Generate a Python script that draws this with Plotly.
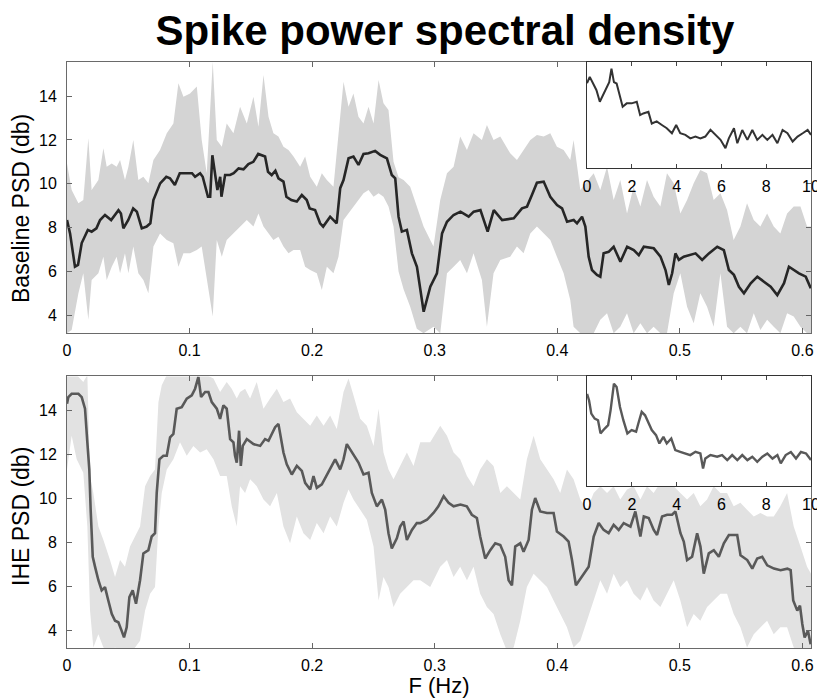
import plotly.graph_objects as go

# ---------------- data ----------------
# Top panel: baseline mean PSD (dB) vs frequency (Hz)
top_f = [0, 0.0025, 0.0065, 0.009, 0.012, 0.017, 0.0201, 0.024, 0.027, 0.031,
         0.036, 0.042, 0.044, 0.046, 0.050, 0.054, 0.057, 0.061, 0.065, 0.068,
         0.0705, 0.076, 0.081, 0.084, 0.088, 0.092, 0.102, 0.1045, 0.1086, 0.1107,
         0.115, 0.1168, 0.1186, 0.121, 0.1227, 0.125, 0.126, 0.129, 0.133, 0.136,
         0.140, 0.144, 0.148, 0.152, 0.156, 0.1616, 0.164, 0.167, 0.170, 0.1725,
         0.1766, 0.179, 0.183, 0.1875, 0.1916, 0.1956, 0.198, 0.2024, 0.2065, 0.209,
         0.2147, 0.220, 0.2229, 0.2256, 0.2297, 0.2337, 0.2378, 0.2419, 0.246, 0.2514,
         0.2555, 0.261, 0.265, 0.2678, 0.2705, 0.2732, 0.2773, 0.2814, 0.2855, 0.291,
         0.2964, 0.3018, 0.306, 0.310, 0.3154, 0.321, 0.3277, 0.3318, 0.3373, 0.3432,
         0.3482, 0.355, 0.3645, 0.3712, 0.3753, 0.3793, 0.3834, 0.3889, 0.3943, 0.3998,
         0.4039, 0.408, 0.4134, 0.4161, 0.4202, 0.4229, 0.4256, 0.4283, 0.4324, 0.4351,
         0.4378, 0.4419, 0.446, 0.4515, 0.457, 0.4624, 0.4665, 0.4706, 0.4787, 0.4842,
         0.4883, 0.491, 0.4937, 0.4964, 0.4992, 0.5032, 0.5087, 0.5128, 0.5182, 0.5237,
         0.5305, 0.5359, 0.540, 0.5441, 0.5482, 0.5523, 0.5578, 0.5632, 0.5686, 0.5741,
         0.5795, 0.585, 0.589, 0.5931, 0.5972, 0.6027, 0.6068]
top_psd = [8.35, 7.74, 6.22, 6.30, 7.30, 7.90, 7.82, 7.97, 8.35, 8.58,
           8.35, 8.80, 8.65, 7.97, 8.35, 8.88, 8.73, 7.97, 8.05, 8.20,
           9.26, 10.02, 10.32, 10.25, 9.95, 10.48, 10.48, 10.32, 10.48, 10.32,
           9.41, 9.41, 11.30, 10.48, 9.72, 10.32, 9.41, 10.40, 10.40, 10.48,
           10.70, 10.66, 10.90, 11.00, 11.36, 11.24, 10.55, 10.40, 10.60, 10.25,
           10.10, 9.41, 9.26, 9.19, 9.49, 9.26, 8.88, 8.80, 8.20, 8.05,
           8.50, 8.20, 9.80, 10.17, 11.16, 11.24, 10.86, 11.36, 11.39, 11.50,
           11.32, 11.16, 10.40, 10.25, 8.50, 7.82, 7.90, 6.83, 6.22, 4.17,
           5.31, 5.92, 7.74, 8.27, 8.58, 8.73, 8.50, 8.73, 8.80, 7.82,
           8.80, 8.35, 8.43, 8.88, 8.96, 9.49, 10.05, 10.10, 9.41, 9.03,
           8.88, 8.27, 8.35, 8.20, 8.50, 8.05, 6.68, 6.07, 5.85, 5.77,
           6.83, 6.90, 7.13, 6.45, 7.13, 6.98, 6.75, 7.13, 7.06, 6.68,
           6.07, 5.39, 5.92, 6.83, 6.53, 6.68, 6.75, 6.83, 6.53, 6.83,
           7.13, 6.98, 6.07, 5.85, 5.31, 5.01, 5.47, 5.77, 5.54, 5.31,
           4.93, 5.47, 6.22, 6.07, 5.92, 5.77, 5.24]

# Top panel: shaded band (upper / lower bounds)
top_band_f = [0, 0.0038, 0.0093, 0.0133, 0.0174, 0.0201, 0.0256, 0.0297, 0.0324, 0.0365,
              0.0405, 0.0433, 0.0473, 0.0501, 0.0541, 0.0582, 0.0623, 0.0664, 0.0705, 0.0759,
              0.0814, 0.0868, 0.0909, 0.095, 0.1004, 0.1059, 0.1099, 0.114, 0.1189, 0.1222,
              0.1263, 0.1303, 0.1358, 0.1412, 0.1467, 0.1521, 0.1562, 0.1603, 0.1644, 0.1684,
              0.1725, 0.1766, 0.1807, 0.1848, 0.1902, 0.1943, 0.1984, 0.2038, 0.2079, 0.212,
              0.2174, 0.2215, 0.2256, 0.2297, 0.2337, 0.2378, 0.2419, 0.246, 0.2501, 0.2542,
              0.2582, 0.2623, 0.2664, 0.2705, 0.2746, 0.28, 0.2854, 0.2909, 0.299, 0.3045,
              0.31, 0.3154, 0.3208, 0.3263, 0.3317, 0.3385, 0.3426, 0.348, 0.3535, 0.3616,
              0.3671, 0.3725, 0.378, 0.3834, 0.3889, 0.3943, 0.3997, 0.4052, 0.4106, 0.4133,
              0.4188, 0.4297, 0.4351, 0.4406, 0.446, 0.4514, 0.4569, 0.4623, 0.4678, 0.4732,
              0.4786, 0.4841, 0.4895, 0.495, 0.5004, 0.5059, 0.5113, 0.5167, 0.5222, 0.5276,
              0.5331, 0.5385, 0.5439, 0.5494, 0.5548, 0.5603, 0.5657, 0.5712, 0.5766, 0.582,
              0.5875, 0.5929, 0.5984, 0.6038, 0.607]
top_upper = [10.93, 9.72, 9.11, 9.26, 12.07, 9.72, 10.17, 11.62, 10.78, 10.93,
             10.78, 11.08, 10.17, 10.78, 12.00, 10.17, 10.32, 10.02, 11.08, 11.54,
             12.30, 12.75, 14.58, 13.97, 14.12, 14.43, 12.00, 10.48, 15.56, 12.00,
             11.69, 12.75, 12.30, 13.51, 12.75, 13.97, 12.60, 14.96, 13.06, 12.30,
             12.15, 11.69, 11.54, 11.24, 10.78, 11.24, 10.32, 9.87, 10.48, 10.17,
             9.87, 12.15, 14.65, 13.51, 14.12, 13.06, 12.75, 13.51, 12.75, 14.73,
             13.67, 13.36, 11.00, 10.30, 10.17, 9.87, 9.00, 8.05, 7.14, 9.26,
             10.48, 10.78, 12.15, 11.54, 12.30, 12.00, 12.68, 12.00, 12.15, 11.39,
             11.08, 11.54, 12.00, 12.22, 12.15, 12.30, 11.69, 11.54, 11.08, 12.00,
             9.72, 10.48, 9.72, 10.78, 9.26, 10.17, 8.65, 9.87, 8.96, 10.17,
             9.41, 8.96, 10.48, 10.02, 8.65, 9.26, 10.02, 10.63, 10.48, 9.26,
             9.57, 8.81, 7.44, 8.05, 9.11, 8.35, 8.05, 8.65, 8.05, 7.74,
             8.65, 8.96, 8.96, 8.05, 8.05]
top_lower = [3.19, 3.34, 5.01, 5.92, 3.80, 5.62, 5.92, 6.68, 5.62, 6.22,
             6.68, 5.92, 6.83, 5.92, 7.14, 5.92, 5.62, 5.01, 7.14, 7.74,
             7.44, 7.29, 6.22, 6.83, 6.83, 6.98, 7.14, 5.62, 3.95, 7.44,
             6.68, 7.44, 7.74, 8.05, 8.35, 8.05, 8.65, 8.05, 7.74, 7.44,
             7.59, 7.14, 6.83, 6.98, 6.98, 6.22, 6.07, 5.92, 5.16, 6.22,
             5.92, 6.68, 8.35, 8.65, 8.96, 9.26, 9.57, 9.72, 9.41, 9.57,
             9.41, 8.96, 8.05, 6.00, 5.20, 4.40, 3.40, 3.19, 3.49, 3.19,
             5.92, 6.22, 6.53, 5.92, 6.83, 5.62, 3.49, 5.92, 6.53, 6.68,
             7.14, 6.83, 7.74, 8.05, 7.74, 7.44, 6.68, 5.92, 4.71, 3.49,
             3.19, 3.19, 3.80, 4.10, 3.19, 3.49, 4.10, 3.19, 3.64, 3.19,
             3.49, 3.19, 3.19, 5.01, 5.92, 4.40, 3.64, 5.01, 4.40, 3.49,
             5.92, 3.49, 3.19, 3.49, 3.19, 4.10, 3.34, 3.80, 3.49, 3.19,
             4.10, 3.95, 3.49, 3.19, 3.19]

# Bottom panel: IHE mean PSD (dB)
ihe_f = [0, 0.0011, 0.0038, 0.0093, 0.012, 0.0147, 0.0166, 0.0182, 0.0193, 0.021,
         0.0229, 0.0256, 0.0283, 0.031, 0.0337, 0.0365, 0.0392, 0.0419, 0.0446, 0.0465,
         0.0487, 0.0509, 0.0536, 0.0563, 0.0596, 0.0623, 0.0664, 0.0691, 0.0718, 0.0732,
         0.0754, 0.0786, 0.0814, 0.0841, 0.0868, 0.0895, 0.0936, 0.0977, 0.1018, 0.1045,
         0.1072, 0.1094, 0.1127, 0.1154, 0.1181, 0.1222, 0.1249, 0.1276, 0.1303, 0.1331,
         0.1358, 0.1371, 0.1385, 0.1404, 0.1418, 0.1434, 0.1467, 0.1521, 0.1576, 0.1616,
         0.1644, 0.1671, 0.1698, 0.1725, 0.1744, 0.1766, 0.1793, 0.1834, 0.1875, 0.1916,
         0.1943, 0.1984, 0.2011, 0.2038, 0.2079, 0.212, 0.2161, 0.2188, 0.2229, 0.2256,
         0.2283, 0.2324, 0.2378, 0.2419, 0.246, 0.2487, 0.2528, 0.2569, 0.2596, 0.2623,
         0.265, 0.2691, 0.2718, 0.2746, 0.2773, 0.2814, 0.2854, 0.2882, 0.2937, 0.299,
         0.303, 0.3073, 0.3113, 0.3154, 0.321, 0.3262, 0.3303, 0.3344, 0.3371, 0.3412,
         0.3453, 0.3494, 0.3535, 0.3575, 0.3603, 0.363, 0.3657, 0.3698, 0.3725, 0.3766,
         0.3793, 0.382, 0.3861, 0.3916, 0.397, 0.3997, 0.4052, 0.4092, 0.412, 0.4152,
         0.4201, 0.4256, 0.4297, 0.4338, 0.4378, 0.4419, 0.446, 0.4501, 0.4542, 0.4597,
         0.4637, 0.4678, 0.4706, 0.4746, 0.4787, 0.4814, 0.4855, 0.4896, 0.4937, 0.4964,
         0.5005, 0.5032, 0.5059, 0.51, 0.5141, 0.5168, 0.5195, 0.5236, 0.5277, 0.5318,
         0.5359, 0.54, 0.5468, 0.5495, 0.555, 0.5591, 0.5631, 0.5672, 0.5713, 0.5768,
         0.5822, 0.5877, 0.5904, 0.5925, 0.5958, 0.598, 0.5999, 0.6018, 0.6045, 0.6067]
ihe_psd = [14.31, 14.61, 14.76, 14.76, 14.61, 14.08, 12.55, 11.32, 9.49, 7.35,
           6.89, 6.28, 5.82, 5.97, 5.36, 4.75, 4.44, 4.37, 3.98, 3.68,
           4.14, 5.51, 5.82, 5.21, 6.28, 7.50, 7.65, 8.27, 8.42, 10.25,
           11.78, 11.94, 11.94, 12.78, 12.93, 14.08, 14.15, 14.54, 14.69, 14.99,
           15.53, 14.61, 14.84, 14.84, 14.38, 14.08, 13.62, 14.23, 14.08, 12.70,
           12.55, 11.94, 11.63, 13.08, 11.48, 12.39, 12.70, 12.47, 12.39, 12.70,
           12.62, 12.93, 13.24, 13.39, 12.85, 12.09, 11.55, 11.09, 11.48, 11.25,
           10.71, 10.41, 11.02, 10.48, 10.64, 11.09, 11.48, 11.78, 11.32, 11.78,
           12.47, 12.09, 11.63, 11.09, 11.17, 10.25, 9.64, 9.95, 9.49, 8.42,
           7.73, 8.19, 8.72, 8.95, 8.11, 8.57, 8.88, 8.88, 9.03, 9.34,
           9.64, 10.10, 9.80, 9.64, 9.72, 9.64, 9.26, 9.11, 8.27, 7.27,
           7.65, 7.96, 7.88, 7.35, 6.28, 6.05, 7.81, 7.96, 7.58, 8.11,
           9.49, 10.02, 9.41, 9.34, 9.34, 8.50, 8.27, 8.04, 7.20, 6.05,
           6.43, 6.89, 8.27, 8.88, 8.57, 8.42, 8.80, 8.57, 8.88, 8.72,
           9.41, 8.27, 9.18, 9.11, 8.57, 8.34, 9.18, 9.26, 9.26, 9.41,
           8.42, 8.04, 7.20, 7.35, 8.42, 7.81, 6.58, 7.50, 7.65, 7.35,
           7.96, 8.34, 8.34, 7.42, 7.20, 6.81, 7.27, 7.35, 6.96, 6.81,
           6.74, 6.81, 6.74, 5.36, 4.90, 5.13, 4.29, 3.68, 3.98, 3.37]

# Bottom panel: shaded band
ihe_band_f = [0, 0.0038, 0.0079, 0.0133, 0.0166, 0.0188, 0.0215, 0.0256, 0.0297, 0.0351,
              0.0392, 0.0433, 0.0473, 0.0514, 0.0555, 0.0596, 0.0637, 0.0678, 0.0718, 0.0746,
              0.0773, 0.0814, 0.0868, 0.0922, 0.0977, 0.1031, 0.1086, 0.114, 0.1195, 0.1249,
              0.1303, 0.1344, 0.1385, 0.1412, 0.1453, 0.1494, 0.1548, 0.1603, 0.1657, 0.1712,
              0.1766, 0.182, 0.1875, 0.1929, 0.1984, 0.2038, 0.2093, 0.2147, 0.2201, 0.2256,
              0.2297, 0.2337, 0.2392, 0.2446, 0.2501, 0.2542, 0.2582, 0.2623, 0.2664, 0.2718,
              0.2773, 0.2827, 0.2882, 0.2963, 0.3045, 0.31, 0.3154, 0.3208, 0.3263, 0.3317,
              0.3371, 0.3426, 0.348, 0.3535, 0.3589, 0.3644, 0.3698, 0.3752, 0.3807, 0.3861,
              0.3916, 0.397, 0.4024, 0.4079, 0.4133, 0.4188, 0.4242, 0.4297, 0.4351, 0.4406,
              0.446, 0.4514, 0.4569, 0.4623, 0.4678, 0.4732, 0.4786, 0.4841, 0.4895, 0.495,
              0.5004, 0.5059, 0.5113, 0.5167, 0.5222, 0.5276, 0.5331, 0.5385, 0.5439, 0.5494,
              0.5548, 0.5603, 0.5657, 0.5712, 0.5766, 0.582, 0.5875, 0.5929, 0.5984, 0.6038,
              0.607]
ihe_upper = [15.61, 15.61, 15.61, 15.30, 15.61, 11.02, 10.25, 8.72, 8.11, 7.20,
             6.43, 7.20, 6.89, 7.81, 8.27, 8.72, 10.56, 11.02, 11.32, 14.38,
             15.15, 15.61, 15.61, 15.61, 15.61, 15.61, 15.61, 15.61, 15.45, 14.84,
             15.30, 14.99, 14.54, 14.84, 14.99, 14.54, 15.30, 14.08, 14.54, 14.99,
             14.38, 14.54, 13.92, 13.62, 13.31, 13.77, 13.31, 13.77, 13.16, 14.84,
             15.45, 14.69, 13.62, 13.31, 12.39, 14.08, 12.09, 11.32, 10.87, 11.48,
             12.09, 11.48, 12.55, 12.55, 13.31, 12.85, 12.09, 11.78, 11.02, 10.56,
             11.32, 11.78, 11.48, 10.25, 10.56, 10.25, 9.95, 11.78, 12.85, 11.78,
             11.32, 10.87, 10.25, 11.32, 10.87, 9.95, 9.49, 10.25, 10.56, 10.25,
             10.56, 9.95, 10.41, 10.56, 9.95, 10.56, 10.25, 10.71, 10.56, 10.56,
             10.25, 9.95, 10.25, 9.64, 9.95, 10.56, 10.25, 10.25, 9.64, 9.80,
             9.49, 9.18, 9.34, 9.18, 9.18, 9.64, 10.25, 8.72, 7.81, 6.89,
             6.58]
ihe_lower = [11.32, 12.85, 11.78, 11.17, 8.72, 4.90, 3.22, 3.83, 3.22, 3.07,
             3.22, 3.07, 3.07, 3.07, 3.22, 3.53, 4.90, 5.67, 5.97, 8.72,
             10.25, 11.32, 11.78, 12.55, 11.94, 12.39, 12.09, 12.24, 11.78, 11.02,
             11.02, 9.64, 8.72, 10.56, 10.25, 10.87, 10.56, 9.95, 9.64, 10.25,
             8.72, 7.96, 9.18, 8.42, 8.11, 8.88, 8.42, 9.18, 8.72, 9.80,
             10.41, 9.95, 9.49, 9.03, 7.81, 5.36, 6.43, 5.97, 5.06, 5.67,
             5.97, 6.28, 6.28, 5.97, 6.89, 7.20, 6.43, 6.89, 6.28, 6.89,
             5.67, 5.06, 4.75, 3.83, 3.07, 3.22, 4.44, 5.97, 6.58, 6.28,
             5.97, 5.36, 4.75, 4.14, 3.22, 3.53, 4.44, 5.36, 6.28, 5.67,
             6.58, 5.97, 6.28, 5.67, 5.36, 5.97, 5.36, 5.06, 5.67, 6.28,
             5.36, 4.14, 4.75, 4.44, 5.06, 5.36, 5.67, 5.67, 4.75, 4.14,
             3.22, 3.83, 4.14, 4.44, 3.83, 4.14, 4.14, 3.22, 3.07, 3.07,
             3.07]

# Insets: full spectrum 0-10 Hz (relative level, no y scale shown)
inset_top_f = [0, 0.12, 0.27, 0.42, 0.57, 0.72, 0.87, 0.99, 1.09, 1.2,
               1.32, 1.47, 1.59, 1.77, 1.99, 2.22, 2.37, 2.51, 2.74, 2.89,
               3.11, 3.34, 3.56, 3.79, 3.98, 4.16, 4.39, 4.61, 4.84, 5.06,
               5.28, 5.51, 5.73, 5.96, 6.18, 6.33, 6.56, 6.71, 6.93, 7.16,
               7.38, 7.6, 7.83, 8.05, 8.28, 8.5, 8.73, 8.95, 9.18, 9.4,
               9.63, 9.85, 10]
inset_top_val = [80, 86, 79.7, 73.4, 62.5, 68.8, 75, 81, 93.8, 81,
                 79.7, 67, 57.8, 61, 61, 62.5, 50, 51.5, 53, 42,
                 44, 40.6, 37.5, 32.8, 40.6, 32.8, 31.3, 28, 29.7, 28,
                 29.7, 36, 31.3, 26.6, 18.8, 28, 37.5, 23.4, 35.9, 26.6,
                 35.9, 26.6, 31.3, 26.6, 31.3, 23.4, 35.9, 32.8, 25, 29.7,
                 32.8, 35.9, 31.3]
inset_bot_f = [0, 0.09, 0.19, 0.34, 0.49, 0.6, 0.79, 0.94, 1.05, 1.2,
               1.32, 1.47, 1.62, 1.8, 1.99, 2.19, 2.29, 2.44, 2.59, 2.74,
               2.89, 3.08, 3.23, 3.41, 3.56, 3.76, 3.94, 4.16, 4.39, 4.61,
               4.84, 5.06, 5.18, 5.28, 5.51, 5.81, 6.03, 6.26, 6.48, 6.71,
               6.93, 7.16, 7.38, 7.6, 7.83, 8.05, 8.28, 8.5, 8.65, 8.87,
               9.1, 9.33, 9.55, 9.78, 10]
inset_bot_val = [84, 78, 66, 61.5, 60, 48, 52.4, 55.5, 69, 93.3,
                 90.3, 72, 60, 48, 51, 49.5, 57, 67.6, 64.5, 58.5,
                 51, 46.4, 38.8, 44.8, 38.8, 43.3, 32.7, 31.2, 29.7, 28.2,
                 31.2, 29.7, 16, 25, 28.2, 26.7, 28.2, 23.6, 28.2, 23.6,
                 28.2, 23.6, 26.7, 22, 26.7, 29.7, 25, 28.2, 20.6, 28.2,
                 31, 25, 31, 29.7, 23.6]

# Tick labels
main_tickvals = [0, 0.1, 0.2, 0.3, 0.4, 0.5, 0.6]
main_ticktext = ["0", "0.1", "0.2", "0.3", "0.4", "0.5", "0.6"]
psd_ticks = [4, 6, 8, 10, 12, 14]
inset_ticks = [0, 2, 4, 6, 8, 10]

# ---------------- figure ----------------
FONT = "Liberation Sans, Arial, Helvetica, sans-serif"
W, H = 817, 698
ML, MR, MT, MB = 67, 6, 62, 50
PW, PH = W - ML - MR, H - MT - MB

fig = go.Figure()

# top band + mean
fig.add_trace(go.Scatter(x=top_band_f, y=top_lower, mode="lines", line=dict(width=0),
                         hoverinfo="skip", xaxis="x", yaxis="y"))
fig.add_trace(go.Scatter(x=top_band_f, y=top_upper, mode="lines", line=dict(width=0),
                         fill="tonexty", fillcolor="#d4d4d4", hoverinfo="skip",
                         xaxis="x", yaxis="y"))
fig.add_trace(go.Scatter(x=top_f, y=top_psd, mode="lines",
                         line=dict(color="#262626", width=2.6), xaxis="x", yaxis="y"))

# bottom band + mean
fig.add_trace(go.Scatter(x=ihe_band_f, y=ihe_lower, mode="lines", line=dict(width=0),
                         hoverinfo="skip", xaxis="x2", yaxis="y2"))
fig.add_trace(go.Scatter(x=ihe_band_f, y=ihe_upper, mode="lines", line=dict(width=0),
                         fill="tonexty", fillcolor="#e2e2e2", hoverinfo="skip",
                         xaxis="x2", yaxis="y2"))
fig.add_trace(go.Scatter(x=ihe_f, y=ihe_psd, mode="lines",
                         line=dict(color="#595959", width=2.6), xaxis="x2", yaxis="y2"))

# insets
fig.add_trace(go.Scatter(x=inset_top_f, y=inset_top_val, mode="lines",
                         line=dict(color="#333333", width=2), xaxis="x3", yaxis="y3"))
fig.add_trace(go.Scatter(x=inset_bot_f, y=inset_bot_val, mode="lines",
                         line=dict(color="#595959", width=2.4), xaxis="x4", yaxis="y4"))

# white backgrounds for the insets (drawn inside the inset subplots)
for xr, yr in (("x3", "y3"), ("x4", "y4")):
    fig.add_shape(type="rect", xref=xr, yref=yr, x0=0, x1=10, y0=0, y1=100,
                  fillcolor="white", line=dict(width=0), layer="below")

tickfont = dict(family=FONT, size=16, color="black")
main_x = dict(range=[0, 0.607], tickvals=main_tickvals, ticktext=main_ticktext,
              ticks="inside", ticklen=5, tickcolor="#666", mirror="allticks",
              showline=True, linecolor="#6a6a6a", linewidth=1, showgrid=False,
              zeroline=False, tickfont=tickfont, ticklabelstandoff=3,
              ticklabeloverflow="allow")
main_y = dict(range=[3.2, 15.55], tickvals=psd_ticks, ticks="inside", ticklen=5,
              tickcolor="#666", mirror="allticks", showline=True, linecolor="#6a6a6a",
              linewidth=1, showgrid=False, zeroline=False, tickfont=tickfont,
              ticklabelstandoff=6)
inset_x = dict(range=[0, 10], tickvals=inset_ticks, ticks="inside", ticklen=4,
               tickcolor="#444", mirror="allticks", showline=True, linecolor="#333",
               linewidth=1.2, showgrid=False, zeroline=False, tickfont=tickfont,
               ticklabelstandoff=4, ticklabeloverflow="allow")
inset_y = dict(range=[0, 100], showticklabels=False, ticks="", mirror=True,
               showline=True, linecolor="#333", linewidth=1.2, showgrid=False,
               zeroline=False)

label_font = dict(family=FONT, size=23, color="black")


def px_to_paper(px, py):
    """Convert picture pixel position to plot-area paper coordinates."""
    return (px - ML) / PW, (H - MB - py) / PH


ax1, ay1 = px_to_paper(21, 209)
ax2, ay2 = px_to_paper(21, 517)

fig.update_layout(
    width=W, height=H,
    margin=dict(l=ML, r=MR, t=MT, b=MB, autoexpand=False),
    paper_bgcolor="white", plot_bgcolor="white", showlegend=False,
    font=dict(family=FONT, color="black"),
    title=dict(text="<b>Spike power spectral density</b>", x=0.5447, xanchor="center",
               y=0.956, yanchor="middle", font=dict(family=FONT, size=42, color="black")),
    xaxis=dict(main_x, domain=[0, 1], anchor="y"),
    yaxis=dict(main_y, domain=[0.5375, 1], anchor="x"),
    xaxis2=dict(main_x, domain=[0, 1], anchor="y2",
                title=dict(text="F (Hz)", standoff=9,
                           font=dict(family=FONT, size=22, color="black"))),
    yaxis2=dict(main_y, domain=[0, 0.4635], anchor="x2"),
    xaxis3=dict(inset_x, domain=[0.699, 1], anchor="y3"),
    yaxis3=dict(inset_y, domain=[0.819, 1], anchor="x3"),
    xaxis4=dict(inset_x, domain=[0.699, 1], anchor="y4"),
    yaxis4=dict(inset_y, domain=[0.2765, 0.4635], anchor="x4"),
    annotations=[
        dict(text="Baseline PSD (db)", textangle=-90, xref="paper", yref="paper",
             x=ax1, y=ay1, xanchor="center", yanchor="middle",
             showarrow=False, font=label_font),
        dict(text="IHE PSD (db)", textangle=-90, xref="paper", yref="paper",
             x=ax2, y=ay2, xanchor="center", yanchor="middle",
             showarrow=False, font=label_font),
    ],
)

fig.write_html("out.html")
